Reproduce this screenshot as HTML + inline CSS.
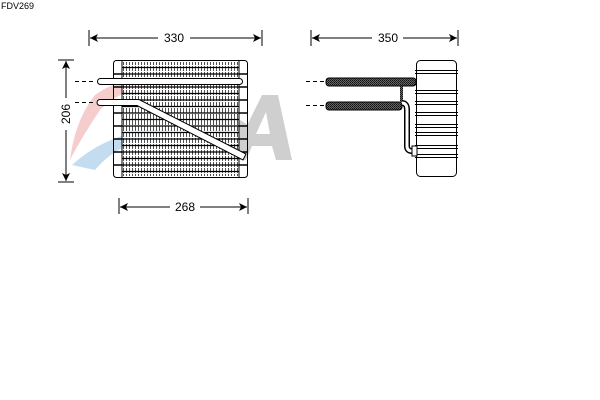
<!DOCTYPE html>
<html><head><meta charset="utf-8"><style>
html,body{margin:0;padding:0;background:#fff;}
svg{display:block;font-family:"Liberation Sans",sans-serif;}
</style></head><body>
<svg width="600" height="400" viewBox="0 0 600 400" xmlns="http://www.w3.org/2000/svg">
<defs>
<pattern id="fin" width="3" height="6" patternUnits="userSpaceOnUse">
<rect width="3" height="6" fill="#fff"/>
<rect x="0" y="0" width="1" height="5" fill="#333"/>
</pattern>
<pattern id="mesh" width="2" height="2" patternUnits="userSpaceOnUse">
<rect width="2" height="2" fill="#666"/>
<rect width="1" height="1" fill="#111"/>
<rect x="1" y="1" width="1" height="1" fill="#222"/>
</pattern>
</defs>
<text x="1" y="9" font-size="9" fill="#000">FDV269</text>

<!-- logo -->
<path d="M95,95 Q130,70 175,88 L170,92 Q130,80 100,110 Q80,140 70,160 Q75,120 95,95Z" fill="#f5c8c8" opacity="0.9"/>
<path d="M72,165 Q110,130 170,128 L168,134 Q120,140 95,170Z" fill="#c4dcef"/>
<path d="M230,160 L262,95 L278,95 L292,160 L276,160 L272,146 L252,146 L246,160Z M256,134 L270,134 L266,112Z" fill="#cfcfcf"/>
<path d="M205,95 L222,95 L232,140 L240,120 L248,125 L236,160 L222,160Z" fill="#cfcfcf"/>

<g stroke="#000" stroke-width="1" fill="none">
<line x1="89" y1="30" x2="89" y2="46"/><line x1="262" y1="30" x2="262" y2="46"/>
<line x1="90" y1="38" x2="158" y2="38"/><line x1="190" y1="38" x2="261" y2="38"/>
<line x1="311" y1="30" x2="311" y2="46"/><line x1="458" y1="30" x2="458" y2="46"/>
<line x1="312" y1="38" x2="372" y2="38"/><line x1="403" y1="38" x2="457" y2="38"/>
<line x1="58" y1="60" x2="74" y2="60"/><line x1="58" y1="182" x2="74" y2="182"/>
<line x1="66" y1="61" x2="66" y2="98"/><line x1="66" y1="130" x2="66" y2="181"/>
<line x1="119" y1="198" x2="119" y2="214"/><line x1="248" y1="198" x2="248" y2="214"/>
<line x1="120" y1="207" x2="170" y2="207"/><line x1="200" y1="207" x2="247" y2="207"/>
</g>
<g fill="#000">
<path d="M90,38 L98,34 L96,38 L98,42Z"/><path d="M261,38 L253,34 L255,38 L253,42Z"/>
<path d="M312,38 L320,34 L318,38 L320,42Z"/><path d="M457,38 L449,34 L451,38 L449,42Z"/>
<path d="M66,61 L62,69 L66,67 L70,69Z"/><path d="M66,181 L62,173 L66,175 L70,173Z"/>
<path d="M120,207 L128,203 L126,207 L128,211Z"/><path d="M247,207 L239,203 L241,207 L239,211Z"/>
</g>
<text x="174" y="42" font-size="12" text-anchor="middle">330</text>
<text x="388" y="42" font-size="12" text-anchor="middle">350</text>
<text x="185" y="211" font-size="12" text-anchor="middle">268</text>
<text x="0" y="0" font-size="12" text-anchor="middle" transform="translate(70,114) rotate(-90)">206</text>

<rect x="113.5" y="60.5" width="134" height="117" rx="3" fill="none" stroke="#000"/>
<rect x="122" y="62" width="117" height="114" fill="url(#fin)" opacity="0.85"/>
<g stroke="#000" stroke-width="1">
<line x1="122" y1="61" x2="122" y2="177"/><line x1="239" y1="61" x2="239" y2="177"/>
</g>
<g stroke="#000" stroke-width="1.3">
<line x1="122" y1="67.5" x2="239" y2="67.5"/><line x1="122" y1="74" x2="239" y2="74"/>
<line x1="122" y1="80.5" x2="239" y2="80.5"/><line x1="122" y1="87" x2="239" y2="87"/>
<line x1="122" y1="93.5" x2="239" y2="93.5"/><line x1="122" y1="100" x2="239" y2="100"/>
<line x1="122" y1="106.5" x2="239" y2="106.5"/><line x1="122" y1="113" x2="239" y2="113"/>
<line x1="122" y1="119.5" x2="239" y2="119.5"/><line x1="122" y1="126" x2="239" y2="126"/>
<line x1="122" y1="132.5" x2="239" y2="132.5"/><line x1="122" y1="139" x2="239" y2="139"/>
<line x1="122" y1="145.5" x2="239" y2="145.5"/><line x1="122" y1="152" x2="239" y2="152"/>
<line x1="122" y1="158.5" x2="239" y2="158.5"/><line x1="122" y1="165" x2="239" y2="165"/>
<line x1="122" y1="171.5" x2="239" y2="171.5"/>
</g>
<g stroke="#000" stroke-width="1.5">
<line x1="113" y1="74" x2="122" y2="74"/><line x1="113" y1="87" x2="122" y2="87"/>
<line x1="113" y1="113" x2="122" y2="113"/><line x1="113" y1="126" x2="122" y2="126"/>
<line x1="113" y1="139" x2="122" y2="139"/><line x1="113" y1="152" x2="122" y2="152"/>
<line x1="113" y1="165" x2="122" y2="165"/>
<line x1="239" y1="74" x2="248" y2="74"/><line x1="239" y1="87" x2="248" y2="87"/>
<line x1="239" y1="100" x2="248" y2="100"/><line x1="239" y1="113" x2="248" y2="113"/>
<line x1="239" y1="126" x2="248" y2="126"/><line x1="239" y1="139" x2="248" y2="139"/>
<line x1="239" y1="152" x2="248" y2="152"/><line x1="239" y1="165" x2="248" y2="165"/>
</g>
<rect x="97.5" y="78.5" width="145" height="6" rx="3" fill="#fff" stroke="#000"/>
<path d="M100,99.5 L139,99.5 L246,154 L243,160 L137,105.5 L100,105.5 A3,3 0 0 1 100,99.5Z" fill="#fff" stroke="#000"/>
<g stroke="#000" stroke-dasharray="4,3">
<line x1="75" y1="81.5" x2="96" y2="81.5"/><line x1="75" y1="102.5" x2="96" y2="102.5"/>
<line x1="306" y1="81.5" x2="324" y2="81.5"/><line x1="306" y1="105.5" x2="324" y2="105.5"/>
</g>

<rect x="416.5" y="60.5" width="40" height="116" rx="4" fill="#fff" stroke="#000"/>
<g stroke="#000" stroke-width="1">
<line x1="415" y1="70.5" x2="458" y2="70.5"/><line x1="415" y1="73.5" x2="458" y2="73.5"/>
<line x1="415" y1="90.5" x2="458" y2="90.5"/><line x1="415" y1="93.5" x2="458" y2="93.5"/>
<line x1="415" y1="101.5" x2="458" y2="101.5"/><line x1="415" y1="104.5" x2="458" y2="104.5"/>
<line x1="415" y1="112.5" x2="458" y2="112.5"/><line x1="415" y1="115.5" x2="458" y2="115.5"/>
<line x1="415" y1="124.5" x2="458" y2="124.5"/><line x1="415" y1="127.5" x2="458" y2="127.5"/>
<line x1="415" y1="132.5" x2="458" y2="132.5"/><line x1="415" y1="135.5" x2="458" y2="135.5"/>
<line x1="415" y1="145.5" x2="458" y2="145.5"/><line x1="415" y1="148.5" x2="458" y2="148.5"/>
<line x1="415" y1="154.5" x2="458" y2="154.5"/><line x1="415" y1="157.5" x2="458" y2="157.5"/>
</g>
<rect x="326" y="78" width="90" height="8" rx="3" fill="url(#mesh)" stroke="#000"/>
<rect x="326" y="102" width="76" height="8" rx="3" fill="url(#mesh)" stroke="#000"/>
<rect x="400" y="86" width="3" height="16" fill="url(#mesh)"/>
<path d="M402,103 Q407,103 407,110 L407,146 Q407,151 412,151 L416,151" fill="none" stroke="#000" stroke-width="6"/>
<path d="M402,103 Q407,103 407,110 L407,146 Q407,151 412,151 L416,151" fill="none" stroke="#fff" stroke-width="3"/>
<rect x="412" y="146" width="5" height="10" fill="#fff" stroke="#000"/>
</svg>
</body></html>
